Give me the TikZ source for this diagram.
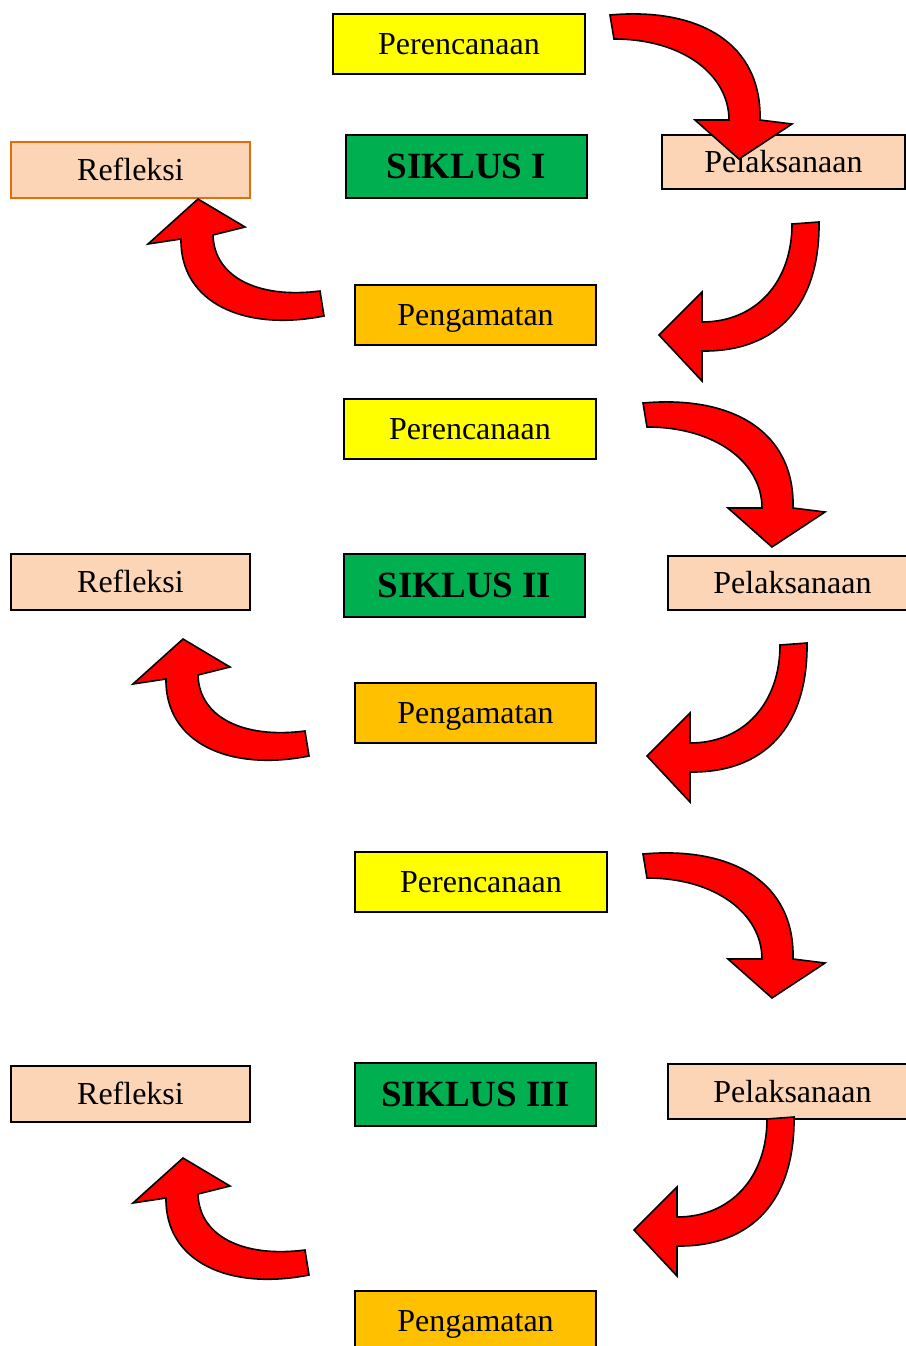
\documentclass[tikz,border=0pt]{standalone}
\usepackage{fontspec}
\setmainfont{Liberation Serif}
\definecolor{cyel}{HTML}{FFFF00}
\definecolor{cgreen}{HTML}{00B050}
\definecolor{corange}{HTML}{FFC000}
\definecolor{cpeach}{HTML}{FBD5B5}
\definecolor{cborder}{HTML}{E46C0A}
\definecolor{cred}{HTML}{FF0000}
\newcommand{\curvA}[1]{\begin{scope}[shift={#1}]
\draw[blockarrow] (643,403) .. controls (733,395) and (795,432) .. (793,508) -- (825,512) -- (772,547) -- (728,508) -- (762,508) .. controls (762,463) and (716,427) .. (647,427) -- cycle;
\end{scope}}
\newcommand{\curvB}[1]{\begin{scope}[shift={#1}]
\draw[blockarrow] (780,645) -- (807,643) .. controls (808,726) and (765,773) .. (690,772) -- (690,802) -- (647,756) -- (690,713) -- (690,743) .. controls (744,743) and (780,703) .. (780,645) -- cycle;
\end{scope}}
\newcommand{\curvC}[1]{\begin{scope}[shift={#1}]
\draw[blockarrow] (305,731) -- (309,756) .. controls (228,772) and (165,742) .. (166,679) -- (133,684) -- (183,639) -- (230,667) -- (198,675) .. controls (199,717) and (243,739) .. (305,731) -- cycle;
\end{scope}}
\begin{document}
\begin{tikzpicture}[x=0.75pt,y=-0.75pt,
  box/.style={draw=black, line width=1pt, inner sep=0pt, outer sep=0pt,
    font=\fontsize{24}{28}\selectfont, text height=15.9pt, text depth=0pt},
  boldbox/.style={box, font=\fontsize{27.75}{32}\selectfont\bfseries, text height=18.4pt},
  sz/.style 2 args={minimum width=#1*0.75pt, minimum height=#2*0.75pt},
  plan/.style={box, fill=cyel},
  cyc/.style={boldbox, fill=cgreen},
  obs/.style={box, fill=corange},
  act/.style={box, fill=cpeach},
  refl/.style={box, fill=cpeach},
  blockarrow/.style={fill=cred, draw=black, line width=1.2pt, line join=miter}]
\useasboundingbox (0,0) rectangle (906,1346);
% Cycle I
\node[plan, sz={252}{60}] (P1) at (459,44) {Perencanaan};
\node[cyc, sz={241}{63}] (S1) at (466.5,166.5) {SIKLUS I};
\node[refl, draw=cborder, sz={239}{56}] (R1) at (130.5,170) {Refleksi};
\node[act, sz={243}{54}] (L1) at (783.5,162) {Pelaksanaan};
\node[obs, sz={241}{60}] (G1) at (475.5,315) {Pengamatan};
% Cycle II
\node[plan, sz={252}{60}] (P2) at (470,429) {Perencanaan};
\node[refl, sz={239}{56}] (R2) at (130.5,582) {Refleksi};
\node[cyc, sz={241}{63}] (S2) at (464.5,585.5) {SIKLUS II};
\node[act, sz={249}{54}] (L2) at (792.5,583) {Pelaksanaan};
\node[obs, sz={241}{60}] (G2) at (475.5,713) {Pengamatan};
% Cycle III
\node[plan, sz={252}{60}] (P3) at (481,882) {Perencanaan};
\node[refl, sz={239}{56}] (R3) at (130.5,1094) {Refleksi};
\node[cyc, sz={241}{63}] (S3) at (475.5,1094.5) {SIKLUS III};
\node[act, sz={249}{55}] (L3) at (792.5,1091.5) {Pelaksanaan};
\node[obs, sz={241}{60}] (G3) at (475.5,1321) {Pengamatan};
% curved block arrows
\curvA{(-33,-388)}
\curvA{(0,0)}
\curvA{(0,451)}
\curvB{(12,-421)}
\curvB{(0,0)}
\curvB{(-13,474)}
\curvC{(15,-440)}
\curvC{(0,0)}
\curvC{(0,519)}
\end{tikzpicture}
\end{document}
